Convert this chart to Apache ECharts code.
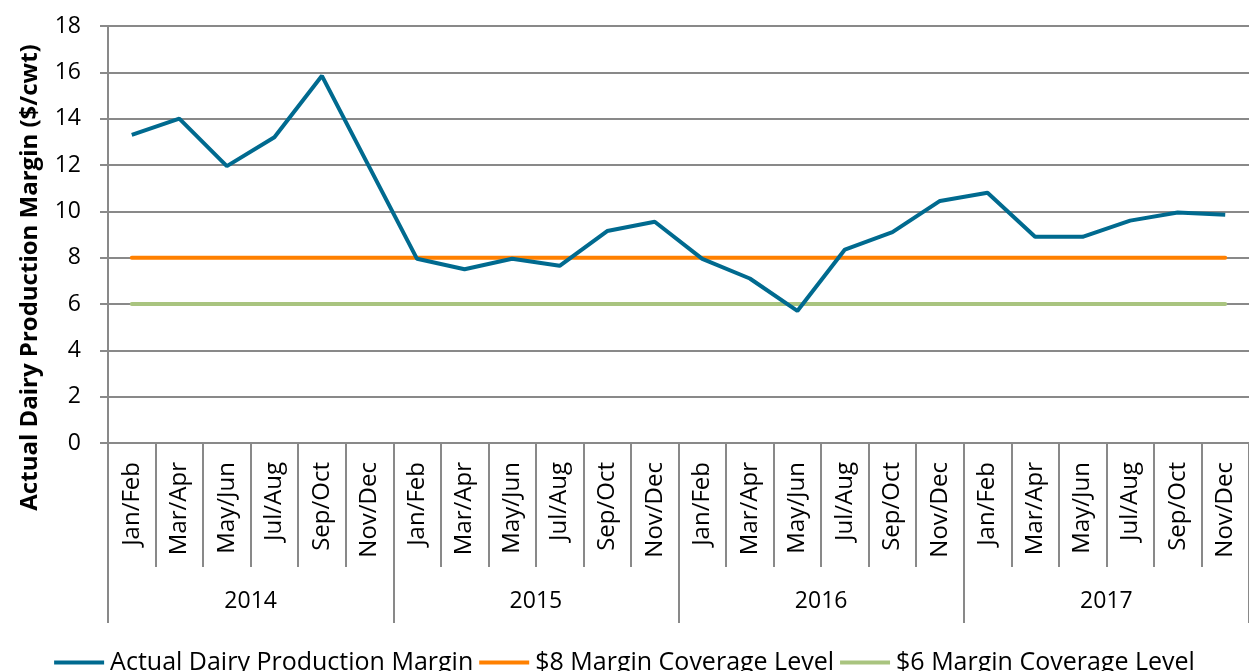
<!DOCTYPE html>
<html>
<head>
<meta charset="utf-8">
<script src="https://cdn.jsdelivr.net/npm/echarts@6/dist/echarts.min.js"></script>
<style>html,body{margin:0;padding:0;background:#fff}#c{width:1249px;height:671px}</style>
</head>
<body>
<div id="c"></div>
<script>
const periods = ["Jan/Feb","Mar/Apr","May/Jun","Jul/Aug","Sep/Oct","Nov/Dec"];
const years = ["2014","2015","2016","2017"];
const categories = [];
years.forEach(y => periods.forEach(p => categories.push(p)));
const actualMargin = [13.3,14.0,11.95,13.2,15.85,11.9, 7.95,7.5,7.95,7.65,9.15,9.55, 7.95,7.1,5.7,8.35,9.1,10.45, 10.8,8.9,8.9,9.6,9.95,9.85];
const level8 = categories.map(() => 8);
const level6 = categories.map(() => 6);
const yTicks = {min: 0, max: 18, interval: 2};

const FONT = "Open Sans";
const chart = echarts.init(document.getElementById('c'));
chart.setOption({
  animation: false,
  textStyle: {fontFamily: FONT},
  grid: {left: 108, right: -8, top: 26, bottom: 228, containLabel: false},
  legend: {
    bottom: -9, left: 'center',
    itemWidth: 50, itemHeight: 4, itemGap: 6, icon: 'rect',
    textStyle: {fontSize: 25, color: '#000', fontFamily: FONT, padding: [0,0,0,1]},
    data: ['Actual Dairy Production Margin','$8 Margin Coverage Level','$6 Margin Coverage Level']
  },
  xAxis: [{
    type: 'category', data: categories, boundaryGap: true,
    axisLine: {lineStyle: {color: '#898989', width: 2}},
    axisTick: {show: true, interval: 0, length: 124, lineStyle: {color: '#898989', width: 2}},
    axisLabel: {interval: 0, rotate: 90, margin: 19, fontSize: 24, color: '#000'}
  }, {
    type: 'category', data: years, position: 'bottom', boundaryGap: true,
    axisLine: {show: false},
    axisTick: {show: true, interval: 0, length: 180, lineStyle: {color: '#898989', width: 2}},
    axisLabel: {interval: 0, margin: 147, fontSize: 23, color: '#000'},
    splitLine: {show: false}
  }],
  yAxis: {
    type: 'value', min: yTicks.min, max: yTicks.max, interval: yTicks.interval,
    name: 'Actual Dairy Production Margin ($/cwt)', nameLocation: 'middle', nameGap: 66,
    nameTextStyle: {fontSize: 24, fontWeight: 'bold', color: '#000', padding: [0, 86, 0, 0]},
    axisLine: {show: true, lineStyle: {color: '#898989', width: 2}},
    axisTick: {show: true, length: 8, lineStyle: {color: '#898989', width: 2}},
    axisLabel: {fontSize: 23, color: '#000', margin: 27},
    splitLine: {lineStyle: {color: '#898989', width: 2}}
  },
  series: [{
    name: 'Actual Dairy Production Margin', type: 'line', data: actualMargin,
    symbol: 'none', lineStyle: {color: '#006A8F', width: 4}, itemStyle: {color: '#006A8F'}, z: 5
  }, {
    name: '$8 Margin Coverage Level', type: 'line', data: level8,
    symbol: 'none', lineStyle: {color: '#FF8000', width: 4, cap: 'round'}, itemStyle: {color: '#FF8000'}, z: 4
  }, {
    name: '$6 Margin Coverage Level', type: 'line', data: level6,
    symbol: 'none', lineStyle: {color: '#A9C47F', width: 4, cap: 'round'}, itemStyle: {color: '#A9C47F'}, z: 3
  }]
});
</script>
</body>
</html>
